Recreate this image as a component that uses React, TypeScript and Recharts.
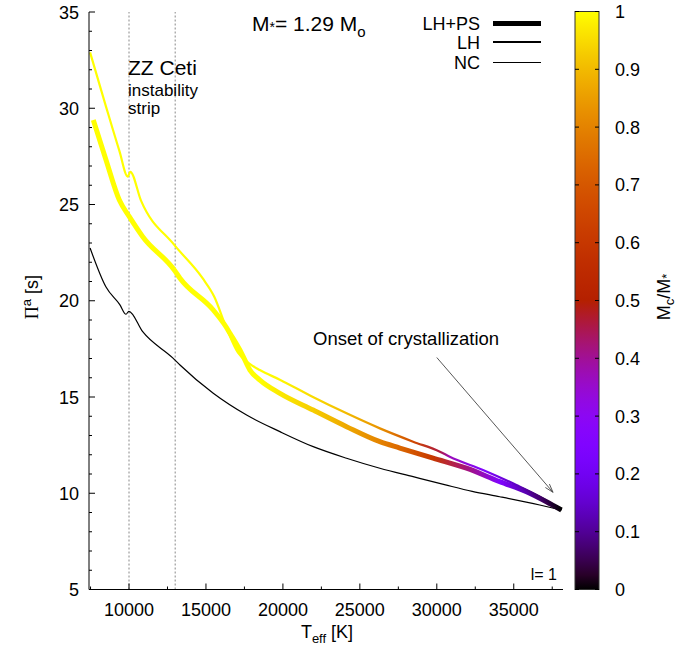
import React from 'react';
import { LineChart, Line, XAxis, YAxis, ReferenceLine } from 'recharts';

const FONT = '"Liberation Sans", Arial, Helvetica, sans-serif';

// LH+PS: thick line
const lhpsTeff = [7680, 8506, 9370, 10020, 10890, 12940, 13312, 15474, 16300, 16558, 17318, 17857, 18506, 19805, 21970, 24136, 26299, 27600, 29760, 31930, 34090, 35825, 37123, 38100];
const lhpsPeriod = [29.39, 27.31, 25.23, 24.37, 23.33, 21.6, 21.17, 19.52, 18.65, 18.31, 17.27, 16.4, 15.88, 15.19, 14.32, 13.46, 12.68, 12.35, 11.82, 11.3, 10.6, 10.08, 9.56, 9.13];
const lhpsMc = [1, 1, 1, 1, 1, 1, 1, 1, 1, 1, 1, 1, 1, 0.97, 0.93, 0.87, 0.8, 0.74, 0.6, 0.42, 0.25, 0.12, 0.05, 0];

// LH: thin coloured line
const lhTeff = [7470, 8500, 9370, 9920, 10080, 10780, 12940, 14780, 15540, 16300, 17080, 17800, 18500, 19800, 21950, 24140, 26300, 28460, 30200, 30840, 33000, 35170, 36690, 38100];
const lhPeriod = [32.9, 30.1, 27.8, 26.45, 26.7, 25.2, 22.9, 21.17, 20.21, 18.65, 17.3, 16.75, 16.4, 15.9, 15.0, 14.15, 13.37, 12.68, 12.16, 11.9, 11.21, 10.43, 9.82, 9.13];
const lhMc = [1, 1, 1, 1, 1, 1, 1, 1, 1, 1, 1, 1, 1, 0.99, 0.95, 0.9, 0.83, 0.66, 0.46, 0.37, 0.25, 0.14, 0.07, 0];

// NC: black line
const ncTeff = [7470, 8506, 9400, 9805, 9990, 10890, 12840, 13312, 15474, 17641, 19805, 21970, 24136, 26299, 28461, 30500, 32300, 34091, 36688, 38100];
const ncPeriod = [22.74, 20.71, 19.8, 19.3, 19.45, 18.39, 17.03, 16.66, 15.19, 14.06, 13.2, 12.42, 11.82, 11.3, 10.86, 10.45, 10.1, 9.82, 9.39, 9.13];

const xTicks = [7500, 10000, 12500, 15000, 17500, 20000, 22500, 25000, 27500, 30000, 32500, 35000, 37500];
const yTicks = [5, 6, 7, 8, 9, 10, 11, 12, 13, 14, 15, 16, 17, 18, 19, 20, 21, 22, 23, 24, 25, 26, 27, 28, 29, 30, 31, 32, 33, 34, 35];
const cbTicks = [0, 0.1, 0.2, 0.3, 0.4, 0.5, 0.6, 0.7, 0.8, 0.9, 1];
const stripEdges = [10000, 13000];

const lhpsData = lhpsTeff.map((t, i) => ({ t, p: lhpsPeriod[i] }));
const lhData = lhTeff.map((t, i) => ({ t, p: lhPeriod[i] }));
const ncData = ncTeff.map((t, i) => ({ t, p: ncPeriod[i] }));

// gnuplot default pm3d palette (rgbformulae 7,5,15)
const palette = (v: number) => {
  const r = Math.sqrt(v);
  const g = v * v * v;
  const b = Math.max(0, Math.sin(2 * Math.PI * v));
  return `rgb(${Math.round(r * 255)},${Math.round(g * 255)},${Math.round(b * 255)})`;
};

const lineGradient = (id: string, teff: number[], mc: number[]) => {
  const t0 = teff[0];
  const t1 = teff[teff.length - 1];
  return (
    <linearGradient id={id} x1="0" y1="0" x2="1" y2="0">
      {teff.map((t, i) => (
        <stop key={i} offset={(t - t0) / (t1 - t0)} stopColor={palette(mc[i])} />
      ))}
    </linearGradient>
  );
};

const BottomTick = (p: any) => {
  const v = p.payload.value;
  const major = v % 5000 === 0;
  return (
    <g>
      <line x1={p.x} x2={p.x} y1={p.y} y2={p.y - (major ? 6 : 3)} stroke="#000" />
      {major && (
        <text x={p.x} y={p.y + 26} textAnchor="middle" fontSize={18} fontFamily={FONT} fill="#000">
          {v}
        </text>
      )}
    </g>
  );
};

const TopTick = (p: any) => {
  const major = p.payload.value % 5000 === 0;
  return <line x1={p.x} x2={p.x} y1={p.y} y2={p.y + (major ? 6 : 3)} stroke="#000" />;
};

const LeftTick = (p: any) => {
  const v = p.payload.value;
  const major = v % 5 === 0;
  return (
    <g>
      <line x1={p.x} x2={p.x + (major ? 6 : 3)} y1={p.y} y2={p.y} stroke="#000" />
      {major && (
        <text x={p.x - 10} y={p.y + 6.5} textAnchor="end" fontSize={18} fontFamily={FONT} fill="#000">
          {v}
        </text>
      )}
    </g>
  );
};

const RightTick = (p: any) => {
  const major = p.payload.value % 5 === 0;
  return <line x1={p.x} x2={p.x - (major ? 6 : 3)} y1={p.y} y2={p.y} stroke="#000" />;
};

const ArrowShape = (p: any) => {
  const { x1, y1, x2, y2 } = p;
  const a = Math.atan2(y2 - y1, x2 - x1);
  const len = 9;
  const sp = 0.3;
  return (
    <g stroke="#444" strokeWidth={0.9} fill="none">
      <line x1={x1} y1={y1} x2={x2} y2={y2} />
      <line x1={x2} y1={y2} x2={x2 - len * Math.cos(a - sp)} y2={y2 - len * Math.sin(a - sp)} />
      <line x1={x2} y1={y2} x2={x2 - len * Math.cos(a + sp)} y2={y2 - len * Math.sin(a + sp)} />
    </g>
  );
};

const CB = { x: 575, y: 11.5, w: 24, h: 578 };

export default function App() {
  const cbStops = Array.from({ length: 41 }, (_, i) => i / 40);
  return (
    <div style={{ position: 'absolute', left: 0, top: 0, width: 698, height: 653, background: '#fff' }}>
      <LineChart width={698} height={653} margin={{ top: 12, right: 135, bottom: 0, left: 0 }}>
        <defs>
          {lineGradient('lhGrad', lhTeff, lhMc)}
          {lineGradient('lhpsGrad', lhpsTeff, lhpsMc)}
        </defs>
        <XAxis
          xAxisId="b"
          type="number"
          dataKey="t"
          domain={[7400, 38200]}
          allowDataOverflow
          ticks={xTicks}
          interval={0}
          height={63.5}
          tickSize={0}
          tickMargin={0}
          tickLine={false}
          axisLine={{ stroke: '#000' }}
          tick={BottomTick}
        />
        <XAxis
          xAxisId="t"
          orientation="top"
          type="number"
          dataKey="t"
          domain={[7400, 38200]}
          allowDataOverflow
          ticks={xTicks}
          interval={0}
          height={0}
          tickSize={0}
          tickMargin={0}
          tickLine={false}
          axisLine={{ stroke: '#000' }}
          tick={TopTick}
        />
        <YAxis
          yAxisId="l"
          type="number"
          domain={[5, 35]}
          allowDataOverflow
          ticks={yTicks}
          interval={0}
          width={89}
          tickSize={0}
          tickMargin={0}
          tickLine={false}
          axisLine={{ stroke: '#000' }}
          tick={LeftTick}
        />
        <YAxis
          yAxisId="r"
          orientation="right"
          type="number"
          domain={[5, 35]}
          allowDataOverflow
          ticks={yTicks}
          interval={0}
          width={0}
          tickSize={0}
          tickMargin={0}
          tickLine={false}
          axisLine={{ stroke: '#000' }}
          tick={RightTick}
        />
        {stripEdges.map((x) => (
          <ReferenceLine key={x} xAxisId="b" yAxisId="l" x={x} stroke="#888" strokeDasharray="2 2" strokeWidth={1} />
        ))}
        <Line xAxisId="b" yAxisId="l" data={ncData} dataKey="p" type="monotone" stroke="#000" strokeWidth={1.2} dot={false} isAnimationActive={false} />
        <Line xAxisId="b" yAxisId="l" data={lhpsData} dataKey="p" type="monotone" stroke="url(#lhpsGrad)" strokeWidth={5} dot={false} isAnimationActive={false} />
        <Line xAxisId="b" yAxisId="l" data={lhData} dataKey="p" type="monotone" stroke="url(#lhGrad)" strokeWidth={2.2} dot={false} isAnimationActive={false} />
        <ReferenceLine
          xAxisId="b"
          yAxisId="l"
          segment={[{ x: 30000, y: 17.05 }, { x: 37550, y: 10.05 }]}
          shape={ArrowShape}
        />
      </LineChart>
      <svg width={698} height={653} style={{ position: 'absolute', left: 0, top: 0, pointerEvents: 'none' }} fontFamily={FONT} fill="#000">
        <defs>
          <linearGradient id="cbGrad" x1="0" y1="1" x2="0" y2="0">
            {cbStops.map((v) => (
              <stop key={v} offset={v} stopColor={palette(v)} />
            ))}
          </linearGradient>
        </defs>
        {/* colour box */}
        <rect x={CB.x} y={CB.y} width={CB.w} height={CB.h} fill="url(#cbGrad)" stroke="#333" strokeWidth={1} />
        {cbTicks.map((v) => {
          const y = CB.y + CB.h * (1 - v);
          return (
            <g key={v}>
              <line x1={CB.x} x2={CB.x + 4} y1={y} y2={y} stroke="#000" />
              <line x1={CB.x + CB.w - 4} x2={CB.x + CB.w} y1={y} y2={y} stroke="#000" />
              <text x={615} y={y + 6.5} fontSize={18}>
                {v}
              </text>
            </g>
          );
        })}
        <text transform="translate(670,297) rotate(-90)" textAnchor="middle" fontSize={18}>
          M<tspan fontSize={13} dy={4}>c</tspan>
          <tspan dy={-4}>/M</tspan>
          <tspan fontSize={13} dy={1}>*</tspan>
        </text>

        {/* axis titles */}
        <text x={327} y={638} textAnchor="middle" fontSize={18}>
          T<tspan fontSize={13} dy={5}>eff</tspan>
          <tspan dy={-5}> [K]</tspan>
        </text>
        <text transform="translate(38,297) rotate(-90)" textAnchor="middle" fontSize={18}>
          <tspan fontFamily='"Liberation Serif", serif'>Π</tspan>
          <tspan fontSize={13} dy={-7}>a</tspan>
          <tspan dy={7}> [s]</tspan>
        </text>

        {/* legend */}
        <text x={480} y={29.5} textAnchor="end" fontSize={18}>LH+PS</text>
        <line x1={493} x2={541} y1={23.5} y2={23.5} stroke="#000" strokeWidth={5} />
        <text x={480} y={49} textAnchor="end" fontSize={18}>LH</text>
        <line x1={493} x2={541} y1={42} y2={42} stroke="#000" strokeWidth={2} />
        <text x={480} y={68.5} textAnchor="end" fontSize={18}>NC</text>
        <line x1={493} x2={541} y1={62.5} y2={62.5} stroke="#000" strokeWidth={1} />

        {/* annotations */}
        <text x={252} y={31} fontSize={21}>
          M<tspan fontSize={14} dy={1}>*</tspan>
          <tspan dy={-1}>= 1.29 M</tspan>
          <tspan fontSize={15} dy={6}>o</tspan>
        </text>
        <text x={128} y={75} fontSize={21}>ZZ Ceti</text>
        <text x={128} y={96} fontSize={17}>instability</text>
        <text x={128} y={114} fontSize={17}>strip</text>
        <text x={313} y={345} fontSize={18.5}>Onset of crystallization</text>
        <text x={557} y={580} textAnchor="end" fontSize={16}>l= 1</text>
      </svg>
    </div>
  );
}
